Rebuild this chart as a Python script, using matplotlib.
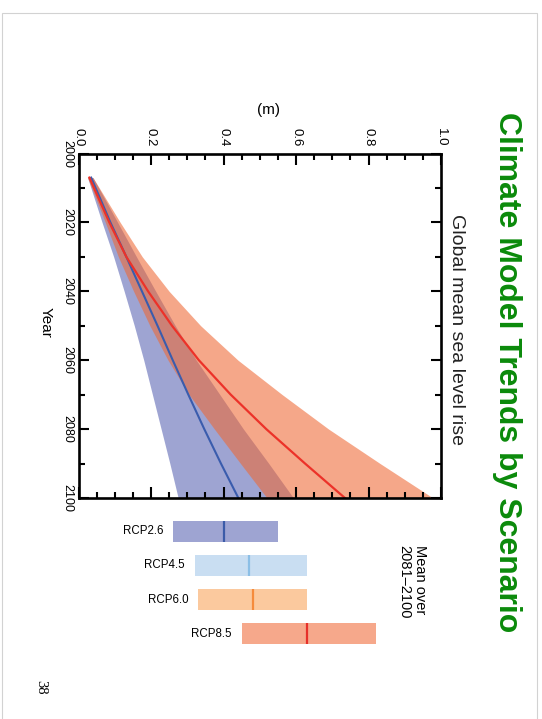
import matplotlib
matplotlib.use("Agg")
import matplotlib.pyplot as plt
from matplotlib.patches import Rectangle
from matplotlib.ticker import MultipleLocator

plt.rcParams['font.family'] = ['Liberation Sans', 'DejaVu Sans']

# Global mean sea level rise projections (m)
years = [2007, 2020, 2030, 2040, 2050, 2060, 2070, 2080, 2090, 2100]
rcp26_mean = [0.035, 0.088, 0.132, 0.175, 0.218, 0.260, 0.303, 0.347, 0.393, 0.441]
rcp26_low = [0.025, 0.065, 0.097, 0.126, 0.154, 0.180, 0.204, 0.228, 0.252, 0.275]
rcp26_high = [0.040, 0.108, 0.160, 0.213, 0.267, 0.325, 0.390, 0.455, 0.525, 0.593]
rcp85_mean = [0.030, 0.085, 0.132, 0.192, 0.258, 0.332, 0.420, 0.518, 0.625, 0.735]
rcp85_low = [0.025, 0.074, 0.110, 0.152, 0.197, 0.247, 0.305, 0.375, 0.447, 0.520]
rcp85_high = [0.040, 0.115, 0.176, 0.250, 0.337, 0.440, 0.562, 0.690, 0.832, 0.978]

# Mean over 2081-2100 with likely range
scenarios = ['RCP2.6', 'RCP4.5', 'RCP6.0', 'RCP8.5']
period_mean = [0.40, 0.47, 0.48, 0.63]
period_low = [0.26, 0.32, 0.33, 0.45]
period_high = [0.55, 0.63, 0.63, 0.82]
bar_colors = ['#9ea4d2', '#c9def2', '#fbc99e', '#f6a88b']
mean_colors = ['#3b5ba8', '#8cbfe6', '#f58b3c', '#e6302a']

W, H = 542, 719
fig = plt.figure(figsize=(W / 100, H / 100), dpi=100)

# page frame
fig.patches.append(Rectangle((1.5 / W, -0.05), (537 - 1.5) / W, 0.05 + 1 - 13 / H,
                             transform=fig.transFigure, fill=False,
                             edgecolor='#d2d2d2', lw=0.8))

left, right = 78.5 / W, 441 / W
ax = fig.add_axes([left, 1 - 498 / H, right - left, (498 - 153.5) / H])

ax.fill_betweenx(years, rcp26_low, rcp26_high, color='#9ea4d2', lw=0)
ax.fill_betweenx(years, rcp85_low, rcp85_high, color=(239 / 255, 104 / 255, 52 / 255),
                 alpha=0.58, lw=0)
ax.plot(rcp26_mean, years, color='#3a5cad', lw=1.5)
ax.plot(rcp85_mean, years, color='#ec3229', lw=1.6)

ax.set_xlim(0, 1)
ax.set_ylim(2100, 2000)
ax.xaxis.set_major_locator(MultipleLocator(0.2))
ax.xaxis.set_minor_locator(MultipleLocator(0.05))
ax.yaxis.set_major_locator(MultipleLocator(20))
ax.yaxis.set_minor_locator(MultipleLocator(10))
ax.xaxis.set_major_formatter(lambda v, p: f'{v:.1f}')

for s in ax.spines.values():
    s.set_linewidth(1.9)
ax.tick_params(which='both', direction='in', top=True, bottom=True, left=True, right=True,
               labeltop=True, labelbottom=False, width=1.5)
ax.tick_params(axis='x', which='major', length=8, pad=5, labelsize=9.5, labelrotation=-90)
ax.tick_params(axis='x', which='minor', length=4)
ax.tick_params(axis='y', which='major', length=7, pad=3.5, labelsize=9, labelrotation=-90)
ax.tick_params(axis='y', which='minor', length=4)
for t in ax.get_yticklabels():
    t.set_va('center')

fig.text(268 / W, 1 - 110 / H, '(m)', ha='center', va='center', fontsize=11)
fig.text(46 / W, 1 - 322 / H, 'Year', rotation=-90, ha='center', va='center', fontsize=11)
fig.text(457 / W, 1 - 330 / H, 'Global mean sea level rise', rotation=-90,
         ha='center', va='center', fontsize=14, color='#222222')
fig.text(507 / W, 1 - 372 / H, 'Climate Model Trends by Scenario', rotation=-90,
         ha='center', va='center', fontsize=23, fontweight='bold', color='#0b8a0b')
fig.text(41 / W, 1 - 687 / H, '38', rotation=-90, ha='center', va='center',
         fontsize=10.5, family='Liberation Serif')

# period mean bars
ax2 = fig.add_axes([left, 1 - 651 / H, right - left, (651 - 514) / H])
ax2.set_xlim(0, 1)
ax2.set_ylim(3.5, -0.5)
ax2.axis('off')
for i, name in enumerate(scenarios):
    ax2.barh(i, period_high[i] - period_low[i], left=period_low[i], height=0.61,
             color=bar_colors[i], lw=0)
    ax2.vlines(period_mean[i], i - 0.305, i + 0.305, color=mean_colors[i], lw=1.6)
    ax2.annotate(name, (period_low[i], i), xytext=(-7, 0), textcoords='offset points',
                 ha='right', va='center', fontsize=8.3)

fig.text(412 / W, 1 - 545 / H, 'Mean over\n2081\u20132100', rotation=-90,
         ha='center', va='top', multialignment='left', fontsize=10.5, linespacing=1.1)

fig.savefig('out.png', dpi=100)
